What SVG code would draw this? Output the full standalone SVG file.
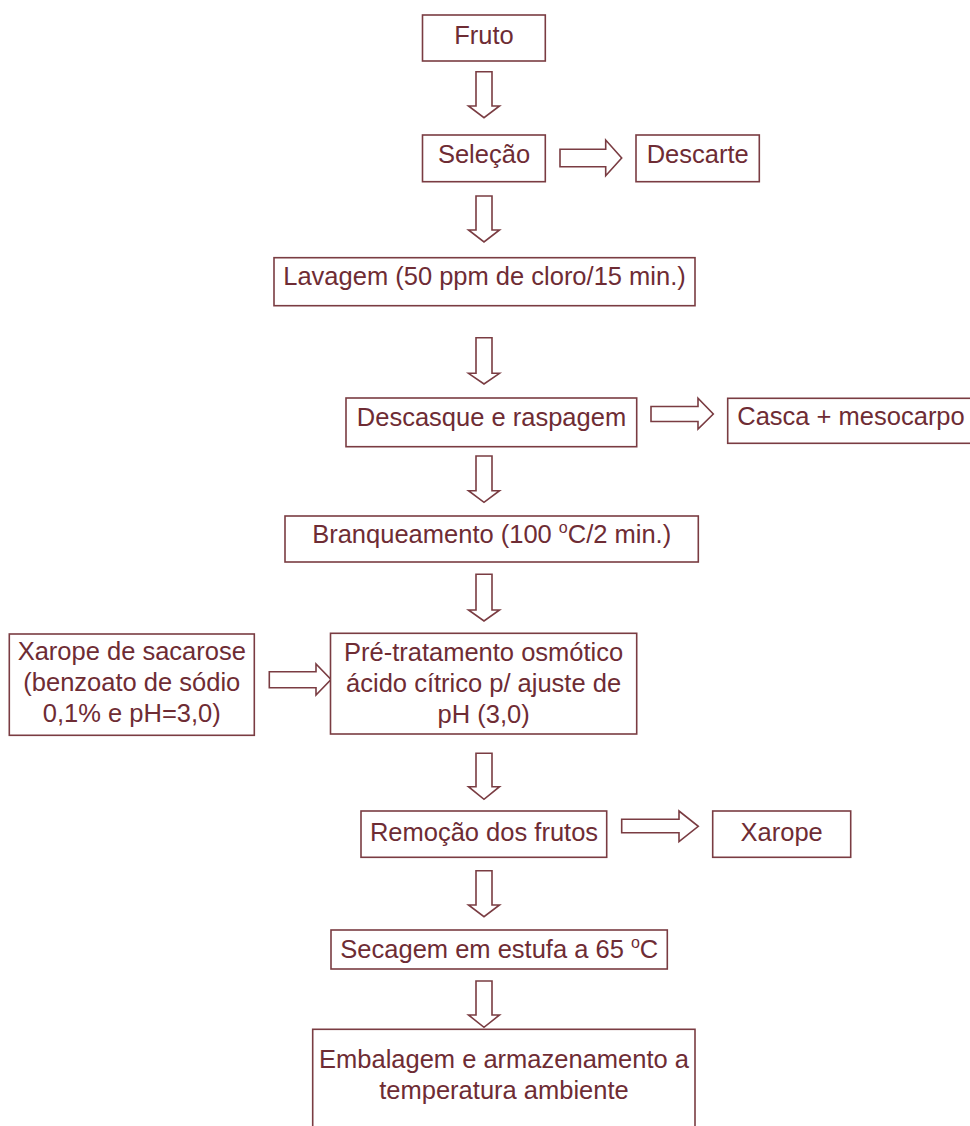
<svg xmlns="http://www.w3.org/2000/svg" width="970" height="1126" viewBox="0 0 970 1126">
<style>
.box{fill:#fff;stroke:#7a3c42;stroke-width:1.6}
.arr{fill:#fff;stroke:#7a3c42;stroke-width:1.6;stroke-linejoin:miter}
text{font-family:"Liberation Sans",Arial,sans-serif;font-size:25.5px;fill:#6e2c34;text-anchor:middle}
.sup{font-size:16px}
</style>
<rect width="970" height="1126" fill="#fff"/>
<g id="connectors">
<polygon class="arr" points="476,71.7 492,71.7 492,106 499.5,106 484,117.7 468.5,106 476,106"/>
<polygon class="arr" points="476,196 492,196 492,230 499.5,230 484,242 468.5,230 476,230"/>
<polygon class="arr" points="476,337.7 492,337.7 492,373.3 499.5,373.3 484,384 468.5,373.3 476,373.3"/>
<polygon class="arr" points="476,456 492,456 492,490.7 499.5,490.7 484,502.3 468.5,490.7 476,490.7"/>
<polygon class="arr" points="476,574.3 492,574.3 492,610 499.5,610 484,621 468.5,610 476,610"/>
<polygon class="arr" points="476,753.3 492,753.3 492,786.7 499.5,786.7 484,799.3 468.5,786.7 476,786.7"/>
<polygon class="arr" points="476,870.7 492,870.7 492,905 499.5,905 484,916.7 468.5,905 476,905"/>
<polygon class="arr" points="476,981 492,981 492,1015 499.5,1015 484,1027.3 468.5,1015 476,1015"/>
<polygon class="arr" points="560,149.3 605.7,149.3 605.7,140 621.7,158 605.7,175.7 605.7,166.7 560,166.7"/>
<polygon class="arr" points="651,406.5 698,406.5 698,398.3 713.3,414 698,429 698,421.5 651,421.5"/>
<polygon class="arr" points="269.3,671.7 316,671.7 316,664 331,679.5 316,695 316,687.7 269.3,687.7"/>
<polygon class="arr" points="621.7,819.3 679,819.3 679,811 698.3,826.3 679,841.7 679,832.7 621.7,832.7"/>
</g>
<g id="n-fruto"><rect class="box" x="422.5" y="15" width="122.8" height="46"/><text x="484" y="43.5">Fruto</text></g>
<g id="n-selecao"><rect class="box" x="422.5" y="135" width="122.8" height="46.7"/><text x="484" y="163.3">Seleção</text></g>
<g id="n-descarte"><rect class="box" x="636" y="135" width="123.3" height="46.7"/><text x="697.7" y="163.3">Descarte</text></g>
<g id="n-lavagem"><rect class="box" x="274" y="257.7" width="421" height="48"/><text x="484.5" y="285.3">Lavagem (50 ppm de cloro/15 min.)</text></g>
<g id="n-descasque"><rect class="box" x="346" y="398" width="290.7" height="48.7"/><text x="491.5" y="425.7">Descasque e raspagem</text></g>
<g id="n-casca"><rect class="box" x="727.7" y="398.3" width="250" height="45"/><text x="851" y="425.3">Casca + mesocarpo</text></g>
<g id="n-branqueamento"><rect class="box" x="285" y="516" width="413.3" height="46"/><text x="491.7" y="543.3">Branqueamento (100 <tspan class="sup" dy="-10">o</tspan><tspan dy="10">C/2 min.)</tspan></text></g>
<g id="n-xarope-sacarose"><rect class="box" x="9.3" y="634" width="245" height="101.3"/><text x="131.8" y="660">Xarope de sacarose</text><text x="131.8" y="691">(benzoato de sódio</text><text x="131.8" y="721.7">0,1% e pH=3,0)</text></g>
<g id="n-pretratamento"><rect class="box" x="330.5" y="633.3" width="306.2" height="100.7"/><text x="483.6" y="660.7">Pré-tratamento osmótico</text><text x="483.6" y="691.7">ácido cítrico p/ ajuste de</text><text x="483.6" y="722.7">pH (3,0)</text></g>
<g id="n-remocao"><rect class="box" x="361" y="811" width="245.7" height="46.3"/><text x="484" y="840.7">Remoção dos frutos</text></g>
<g id="n-xarope"><rect class="box" x="712.7" y="811" width="138" height="46.3"/><text x="781.7" y="840.7">Xarope</text></g>
<g id="n-secagem"><rect class="box" x="331" y="930" width="336.3" height="39"/><text x="499.3" y="958.3">Secagem em estufa a 65 <tspan class="sup" dy="-10">o</tspan><tspan dy="10">C</tspan></text></g>
<g id="n-embalagem"><rect class="box" x="312.7" y="1029.3" width="382.3" height="110"/><text x="504" y="1068.3">Embalagem e armazenamento a</text><text x="504" y="1099">temperatura ambiente</text></g>
</svg>
